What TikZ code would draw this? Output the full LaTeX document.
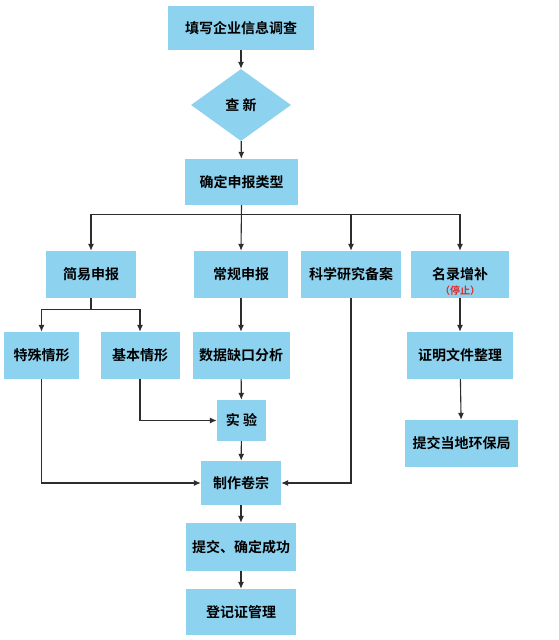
\documentclass[tikz,border=0pt]{standalone}
\usepackage{fontspec}
\newfontfamily\cjk{Noto Sans CJK SC}[BoldFont={Noto Sans CJK SC Bold}]
\usepackage{tikz}
\usetikzlibrary{shapes.geometric,arrows.meta}
\definecolor{boxblue}{RGB}{141,211,240}
\definecolor{stopred}{RGB}{222,40,40}
\definecolor{linegray}{RGB}{45,45,45}

\begin{document}
\begin{tikzpicture}[x=1pt, y=-1pt,
		box/.style={fill=boxblue, inner sep=0pt, minimum height=47pt, font=\cjk\bfseries\fontsize{14}{16}\selectfont},
		flow/.style={-{Latex[length=7pt,width=6pt]}, draw=linegray, line width=1.1pt}]
					\path[use as bounding box, fill=white] (0,0) rectangle (558,640);
					\node[box, minimum width=146pt, minimum height=44pt] (Survey) at (241,28) {填写企业信息调查};
					\node[box, diamond, minimum width=100pt, minimum height=72pt] (Check) at (241,105) {查 新};
					\node[box, minimum width=113pt, minimum height=46pt] (Type) at (241.5,182) {确定申报类型};
					\node[box, minimum width=90pt] (Simple) at (91,274.5) {简易申报};
					\node[box, minimum width=94pt] (Regular) at (241,274.5) {常规申报};
					\node[box, minimum width=100pt] (Research) at (351,274.5) {科学研究备案};
					\node[box, minimum width=98pt, label={[stopred, font=\cjk\bfseries\fontsize{10}{11}\selectfont, yshift=-16pt]center:（停止）}] (Supplement) at (460,274.5) {名录增补};
					\node[box, minimum width=75pt] (Special) at (41.5,355.5) {特殊情形};
					\node[box, minimum width=79pt] (Basic) at (140,355.5) {基本情形};
					\node[box, minimum width=97pt] (Gap) at (241,355.5) {数据缺口分析};
					\node[box, minimum width=106pt] (Proof) at (460,355.5) {证明文件整理};
					\node[box, minimum width=49pt, minimum height=41pt] (Test) at (241.5,420.5) {实 验};
					\node[box, minimum width=113pt] (Submit) at (461.5,443.5) {提交当地环保局};
					\node[box, minimum width=80pt, minimum height=44pt] (Dossier) at (241,483) {制作卷宗};
					\node[box, minimum width=110pt, minimum height=48pt] (Confirm) at (241,547) {提交、确定成功};
					\node[box, minimum width=110pt, minimum height=46pt] (Register) at (241,612) {登记证管理};

					\draw[flow] (Survey) -- (Check);
					\draw[flow] (Check) -- (Type);
					\draw[flow] (Type.south) -- ++(0,9) -| (Simple.north);
					\draw[flow] (Type.south) -- (Regular.north);
					\draw[flow] (Type.south) -- ++(0,9) -| (Research.north);
					\draw[flow] (Type.south) -- ++(0,9) -| (Supplement.north);
					\draw[flow] (Simple.south) -- ++(0,11) -| (Special.north);
					\draw[flow] (Simple.south) -- ++(0,11) -| (Basic.north);
					\draw[flow] (Regular) -- (Gap);
					\draw[flow] (Gap) -- (Test);
					\draw[flow] (Basic.south) |- (Test.west);
					\draw[flow] (Test) -- (Dossier);
					\draw[flow] (Special.south) |- (Dossier.west);
					\draw[flow] (Research.south) |- (Dossier.east);
					\draw[flow] (Dossier) -- (Confirm);
					\draw[flow] (Confirm) -- (Register);
					\draw[flow] (Supplement) -- (Proof);
					\draw[flow] (Proof) -- (Submit);
				\end{tikzpicture}
\end{document}
